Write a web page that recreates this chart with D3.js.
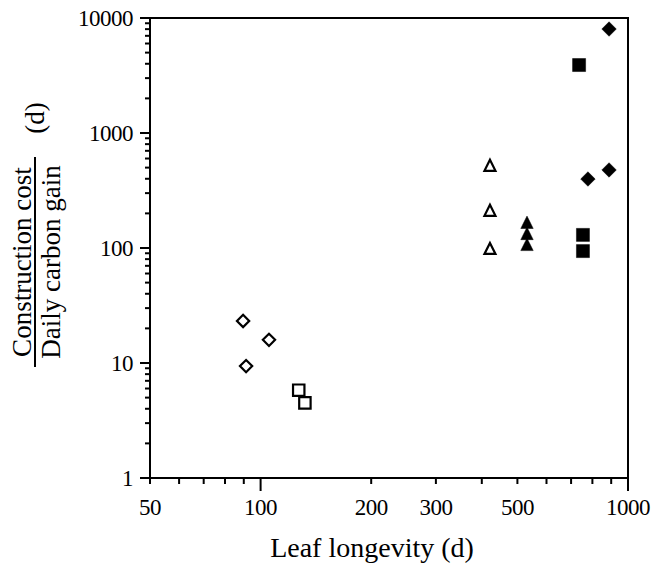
<!DOCTYPE html>
<html><head><meta charset="utf-8">
<script src="https://cdn.jsdelivr.net/npm/d3@7"></script>
<style>body{margin:0;background:#fff}svg{display:block}text{font-family:"Liberation Serif","Times New Roman",serif;fill:#000}</style>
</head><body>
<svg id="c" width="655" height="577"></svg>
<script>
// Data (leaf longevity in days, construction cost / daily carbon gain in days)
const openDiamondX = [89.6, 105.4, 91.3];
const openDiamondY = [23.2, 15.9, 9.4];
const openSquareX = [127, 132];
const openSquareY = [5.8, 4.5];
const openTriangleX = [421, 421, 421];
const openTriangleY = [517, 210, 98];
const filledTriangleX = [531, 531, 531];
const filledTriangleY = [165, 132, 106];
const filledSquareX = [736, 754, 754];
const filledSquareY = [3900, 130, 94];
const filledDiamondX = [888, 778, 888];
const filledDiamondY = [8020, 398, 477];

const xTickLabels = [50, 100, 200, 300, 500, 1000];
const yTickLabels = [1, 10, 100, 1000, 10000];

const svg = d3.select("#c");
const x = d3.scaleLog().domain([50, 1000]).range([150, 628]);
const y = d3.scaleLog().domain([1, 10000]).range([478, 18]);

// frame
svg.append("rect").attr("x", 150).attr("y", 18).attr("width", 478).attr("height", 460)
  .attr("fill", "none").attr("stroke", "#000").attr("stroke-width", 2);

// x ticks
const xMinor = [];
for (let d = 50; d < 100; d += 10) xMinor.push(d);
for (let d = 200; d < 1000; d += 100) xMinor.push(d);
const xMajor = [100, 1000];
svg.append("g").selectAll("line").data(xMinor).join("line")
  .attr("x1", d => x(d)).attr("x2", d => x(d)).attr("y1", 478).attr("y2", 484)
  .attr("stroke", "#000").attr("stroke-width", 2);
svg.append("g").selectAll("line").data(xMajor).join("line")
  .attr("x1", d => x(d)).attr("x2", d => x(d)).attr("y1", 478).attr("y2", 491)
  .attr("stroke", "#000").attr("stroke-width", 2);
svg.append("g").selectAll("text").data(xTickLabels).join("text")
  .attr("x", d => x(d)).attr("y", 515).attr("text-anchor", "middle")
  .attr("font-size", 23).attr("letter-spacing", -0.5).text(d => d);

// y ticks
const yMinor = [];
for (let e = 1; e < 10000; e *= 10) for (let k = 2; k <= 9; k++) yMinor.push(e * k);
svg.append("g").selectAll("line").data(yMinor).join("line")
  .attr("x1", 145).attr("x2", 150).attr("y1", d => y(d)).attr("y2", d => y(d))
  .attr("stroke", "#000").attr("stroke-width", 2);
svg.append("g").selectAll("line").data(yTickLabels).join("line")
  .attr("x1", 140).attr("x2", 150).attr("y1", d => y(d)).attr("y2", d => y(d))
  .attr("stroke", "#000").attr("stroke-width", 2);
svg.append("g").selectAll("text").data(yTickLabels).join("text")
  .attr("x", 133).attr("y", d => y(d)).attr("dy", "0.35em").attr("text-anchor", "end")
  .attr("font-size", 23).attr("letter-spacing", -0.5).text(d => d);

// axis titles
svg.append("text").attr("x", 372).attr("y", 557).attr("text-anchor", "middle")
  .attr("font-size", 28).text("Leaf longevity (d)");
const yt = svg.append("g").attr("transform", "translate(0,262) rotate(-90)");
yt.append("text").attr("x", 0).attr("y", 31).attr("text-anchor", "middle").attr("font-size", 27).text("Construction cost");
yt.append("text").attr("x", 0).attr("y", 60).attr("text-anchor", "middle").attr("font-size", 27).text("Daily carbon gain");
yt.append("line").attr("x1", -105).attr("x2", 105).attr("y1", 35).attr("y2", 35).attr("stroke", "#000").attr("stroke-width", 2);
svg.append("text").attr("transform", "translate(44,118) rotate(-90)").attr("text-anchor", "middle")
  .attr("font-size", 27).text("(d)");

// markers
const sym = (type, size) => d3.symbol().type(type).size(size)();
function plot(xs, ys, type, size, filled) {
  svg.append("g").selectAll("path").data(xs.map((v, i) => [v, ys[i]])).join("path")
    .attr("transform", d => `translate(${x(d[0])},${y(d[1])})`)
    .attr("d", sym(type, size))
    .attr("fill", filled ? "#000" : "#fff")
    .attr("stroke", "#000").attr("stroke-width", filled ? 0.5 : 2.2);
}
const diamondSq = { draw(ctx, s) { const r = Math.sqrt(s) / 2; ctx.moveTo(0, -r); ctx.lineTo(r, 0); ctx.lineTo(0, r); ctx.lineTo(-r, 0); ctx.closePath(); } };
const tri = { draw(ctx, s) { const w = Math.sqrt(s) / 2; ctx.moveTo(0, -w); ctx.lineTo(w * 0.9, w * 0.8); ctx.lineTo(-w * 0.9, w * 0.8); ctx.closePath(); } };
plot(openDiamondX, openDiamondY, diamondSq, 150, false);
plot(openSquareX, openSquareY, d3.symbolSquare, 130, false);
plot(openTriangleX, openTriangleY, tri, 150, false);
plot(filledTriangleX, filledTriangleY, tri, 190, true);
plot(filledSquareX, filledSquareY, d3.symbolSquare, 170, true);
plot(filledDiamondX, filledDiamondY, diamondSq, 210, true);
</script>
</body></html>
